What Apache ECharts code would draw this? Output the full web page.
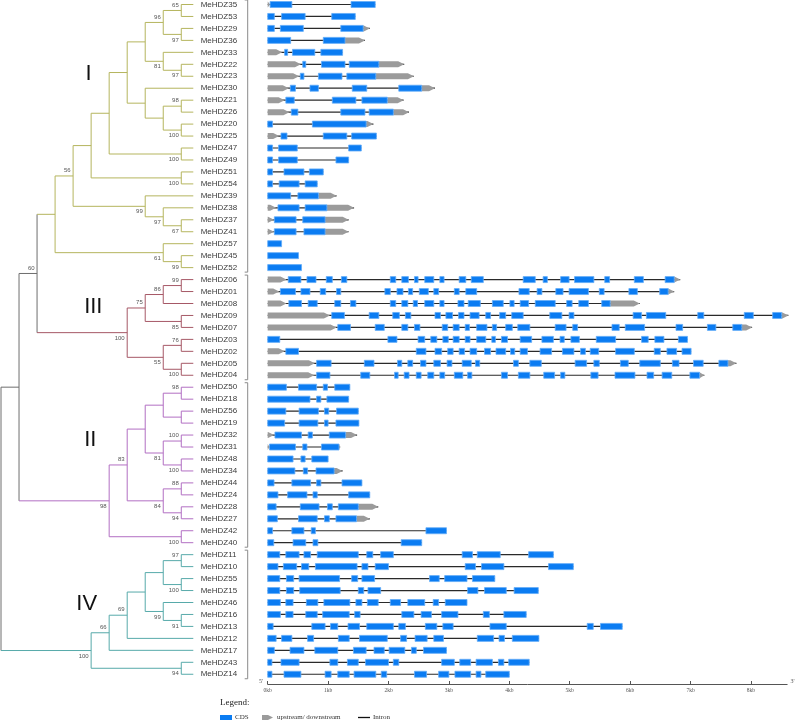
<!DOCTYPE html>
<html><head><meta charset="utf-8">
<script src="https://cdn.jsdelivr.net/npm/echarts@6/dist/echarts.min.js"></script>
<style>html,body{margin:0;padding:0;background:#fff}#c{width:796px;height:722px}</style>
</head><body><div id="c"></div>
<script>
// ---------------- DATA ----------------
const geneOrder = [
 'MeHDZ35','MeHDZ53','MeHDZ29','MeHDZ36','MeHDZ33','MeHDZ22','MeHDZ23','MeHDZ30','MeHDZ21','MeHDZ26',
 'MeHDZ20','MeHDZ25','MeHDZ47','MeHDZ49','MeHDZ51','MeHDZ54','MeHDZ39','MeHDZ38','MeHDZ37','MeHDZ41',
 'MeHDZ57','MeHDZ45','MeHDZ52',
 'MeHDZ06','MeHDZ01','MeHDZ08','MeHDZ09','MeHDZ07','MeHDZ03','MeHDZ02','MeHDZ05','MeHDZ04',
 'MeHDZ50','MeHDZ18','MeHDZ56','MeHDZ19','MeHDZ32','MeHDZ31','MeHDZ48','MeHDZ34','MeHDZ44','MeHDZ24',
 'MeHDZ28','MeHDZ27','MeHDZ42','MeHDZ40',
 'MeHDZ11','MeHDZ10','MeHDZ55','MeHDZ15','MeHDZ46','MeHDZ16','MeHDZ13','MeHDZ12','MeHDZ17','MeHDZ43','MeHDZ14'
];

// Newick topology of each clade with bootstrap values
const cladeNames = ['I', 'III', 'II', 'IV'];
const cladeI = "((((((((MeHDZ35,MeHDZ53)65,(MeHDZ29,MeHDZ36)97)96,(MeHDZ33,(MeHDZ22,MeHDZ23)97)81),(MeHDZ30,((MeHDZ21,MeHDZ26)98,(MeHDZ20,MeHDZ25)100))),(MeHDZ47,MeHDZ49)100),(MeHDZ51,MeHDZ54)100),(MeHDZ39,(MeHDZ38,(MeHDZ37,MeHDZ41)67)97)99)56,(MeHDZ57,(MeHDZ45,MeHDZ52)99)61)";
const cladeIII = "((((MeHDZ06,MeHDZ01)99,MeHDZ08)86,(MeHDZ09,MeHDZ07)85)75,((MeHDZ03,MeHDZ02)76,(MeHDZ05,MeHDZ04)100)55)100";
const cladeII = "(((((MeHDZ50,MeHDZ18)98,(MeHDZ56,MeHDZ19)),((MeHDZ32,MeHDZ31)100,(MeHDZ48,MeHDZ34)100)81),((MeHDZ44,MeHDZ24)88,(MeHDZ28,MeHDZ27)94)84)83,(MeHDZ42,MeHDZ40)100)98";
const cladeIV = "((((((MeHDZ11,MeHDZ10)97,(MeHDZ55,MeHDZ15)100),(MeHDZ46,(MeHDZ16,MeHDZ13)91)99),MeHDZ12)69,MeHDZ17)66,(MeHDZ43,MeHDZ14)94)100";
const backbone = "(((I,III)60,II),IV)";

// Gene structures (kb), flat start/end pairs, aligned with geneOrder
const cdsExons = [
 [0.04,0.40, 1.38,1.78],
 [0,0.11, 0.23,0.62, 1.06,1.45],
 [0,0.11, 0.21,0.59, 1.21,1.58],
 [0,0.38, 0.92,1.28],
 [0.28,0.33, 0.41,0.78, 0.88,1.24],
 [0.58,0.63, 0.89,1.28, 1.35,1.84],
 [0.54,0.60, 0.84,1.23, 1.31,1.79],
 [0.375,0.46, 0.70,0.84, 1.40,1.64, 2.17,2.55],
 [0.30,0.44, 1.07,1.46, 1.56,1.98],
 [0.39,0.50, 1.21,1.61, 1.68,2.08],
 [0,0.08, 0.74,1.63],
 [0.22,0.32, 0.92,1.31, 1.39,1.80],
 [0,0.08, 0.18,0.49, 1.34,1.55],
 [0,0.08, 0.18,0.49, 1.13,1.34],
 [0,0.08, 0.27,0.60, 0.69,0.92],
 [0,0.08, 0.19,0.52, 0.62,0.82],
 [0,0.38, 0.50,0.84],
 [0.17,0.52, 0.62,0.98],
 [0.11,0.47, 0.58,0.95],
 [0.11,0.47, 0.60,0.95],
 [0,0.23],
 [0,0.51],
 [0,0.56],
 [0.34,0.55, 0.65,0.80, 0.97,1.07, 1.22,1.31, 2.03,2.12, 2.22,2.33, 2.43,2.49, 2.60,2.75, 2.85,2.92, 3.17,3.28, 3.37,3.57, 4.23,4.43, 4.56,4.63, 4.85,4.99, 5.08,5.40, 5.58,5.66, 6.07,6.22, 6.58,6.73],
 [0.21,0.46, 0.55,0.70, 0.87,0.96, 1.14,1.21, 1.94,2.03, 2.14,2.24, 2.33,2.40, 2.51,2.66, 2.75,2.83, 3.09,3.17, 3.28,3.46, 4.16,4.33, 4.46,4.54, 4.77,4.89, 4.99,5.31, 5.49,5.57, 5.98,6.12, 6.49,6.63],
 [0.35,0.56, 0.67,0.82, 1.11,1.21, 1.37,1.46, 2.03,2.12, 2.22,2.32, 2.41,2.48, 2.60,2.75, 2.85,2.92, 3.15,3.25, 3.32,3.52, 3.72,3.90, 4.01,4.08, 4.18,4.32, 4.43,4.76, 4.95,5.04, 5.15,5.31, 5.53,5.67],
 [1.06,1.27, 1.68,1.84, 2.07,2.18, 2.28,2.37, 2.77,2.86, 2.95,3.06, 3.16,3.25, 3.35,3.50, 3.61,3.69, 3.84,3.94, 4.04,4.23, 4.67,4.87, 4.99,5.07, 6.05,6.19, 6.27,6.59, 7.12,7.22, 7.89,8.04, 8.36,8.51],
 [1.16,1.37, 1.78,1.93, 2.22,2.32, 2.43,2.52, 2.89,2.98, 3.07,3.17, 3.27,3.34, 3.46,3.63, 3.72,3.79, 3.94,4.05, 4.14,4.34, 4.76,4.94, 5.05,5.13, 5.70,5.82, 5.92,6.24, 6.76,6.87, 7.28,7.42, 7.70,7.85],
 [0,0.20, 1.99,2.14, 2.49,2.60, 2.70,2.80, 2.90,2.99, 3.07,3.17, 3.27,3.35, 3.46,3.61, 3.71,3.77, 3.87,3.97, 4.18,4.37, 4.54,4.73, 4.84,4.91, 5.02,5.16, 5.44,5.76, 6.19,6.30, 6.41,6.56, 6.80,6.95],
 [0.30,0.51, 2.46,2.62, 2.77,2.88, 2.98,3.07, 3.17,3.26, 3.35,3.46, 3.59,3.69, 3.78,3.94, 4.02,4.09, 4.18,4.30, 4.51,4.70, 4.88,5.07, 5.18,5.26, 5.34,5.48, 5.76,6.07, 6.40,6.50, 6.61,6.77, 6.86,7.01],
 [0.81,1.05, 1.60,1.76, 2.15,2.22, 2.32,2.40, 2.53,2.62, 2.75,2.86, 2.97,3.05, 3.22,3.37, 3.44,3.51, 4.07,4.15, 4.34,4.53, 5.09,5.28, 5.40,5.49, 5.84,5.97, 6.16,6.50, 6.70,6.81, 7.05,7.21, 7.47,7.62],
 [0.81,1.03, 1.54,1.69, 2.10,2.16, 2.26,2.34, 2.46,2.54, 2.65,2.75, 2.85,2.93, 3.09,3.23, 3.31,3.38, 3.87,3.97, 4.15,4.34, 4.57,4.75, 4.85,4.92, 5.35,5.47, 5.75,6.08, 6.28,6.39, 6.53,6.69, 6.99,7.15],
 [0,0.31, 0.51,0.81, 0.92,0.99, 1.11,1.36],
 [0,0.70, 0.81,0.88, 0.98,1.34],
 [0,0.30, 0.52,0.84, 0.94,1.01, 1.14,1.50],
 [0,0.28, 0.52,0.83, 0.94,1.00, 1.13,1.51],
 [0.12,0.56, 0.67,0.74, 1.02,1.29],
 [0.03,0.46, 0.58,0.65, 0.89,1.18],
 [0,0.42, 0.55,0.62, 0.73,1.00],
 [0,0.45, 0.59,0.66, 0.80,1.10],
 [0,0.105, 0.40,0.71, 0.81,0.88, 1.23,1.56],
 [0,0.17, 0.33,0.65, 0.75,0.82, 1.34,1.69],
 [0,0.14, 0.54,0.85, 0.99,1.07, 1.17,1.50],
 [0,0.16, 0.51,0.82, 0.94,1.02, 1.13,1.47],
 [0,0.08, 0.40,0.60, 0.72,0.79, 2.62,2.96],
 [0,0.10, 0.42,0.63, 0.75,0.83, 2.21,2.55],
 [0,0.20, 0.30,0.52, 0.60,0.71, 0.82,1.50, 1.64,1.74, 1.87,2.08, 3.22,3.39, 3.47,3.85, 4.32,4.73],
 [0,0.17, 0.26,0.48, 0.56,0.68, 0.79,1.48, 1.56,1.66, 1.78,2.00, 3.27,3.44, 3.54,3.91, 4.65,5.06],
 [0,0.20, 0.31,0.43, 0.52,1.19, 1.39,1.49, 1.56,1.77, 2.68,2.84, 2.93,3.30, 3.39,3.76],
 [0,0.20, 0.31,0.43, 0.53,1.20, 1.50,1.59, 1.66,1.87, 3.31,3.48, 3.59,3.95, 4.08,4.48],
 [0,0.21, 0.30,0.42, 0.64,0.83, 0.93,1.36, 1.46,1.56, 1.65,1.83, 2.03,2.20, 2.32,2.60, 2.74,2.83, 2.94,3.30],
 [0,0.21, 0.30,0.42, 0.63,0.82, 0.91,1.35, 1.44,1.53, 2.22,2.42, 2.54,2.71, 2.88,3.15, 3.57,3.67, 3.91,4.28],
 [0,0.09, 0.73,0.95, 1.04,1.16, 1.33,1.52, 1.64,2.08, 2.17,2.28, 2.61,2.80, 2.90,3.07, 3.68,3.95, 5.29,5.39, 5.51,5.87],
 [0,0.14, 0.23,0.40, 0.66,0.76, 1.17,1.35, 1.52,1.98, 2.20,2.30, 2.44,2.64, 2.75,2.91, 3.47,3.74, 3.83,3.92, 4.05,4.49],
 [0,0.11, 0.37,0.60, 0.78,1.16, 1.42,1.63, 1.76,1.93, 2.01,2.27, 2.38,2.46, 2.58,2.96],
 [0,0.07, 0.22,0.52, 1.03,1.16, 1.32,1.50, 1.62,2.00, 2.08,2.17, 2.88,3.09, 3.18,3.36, 3.45,3.72, 3.82,3.91, 3.99,4.33],
 [0,0.07, 0.27,0.55, 0.95,1.05, 1.16,1.35, 1.43,1.79, 1.88,1.97, 2.43,2.63, 2.83,3.00, 3.10,3.36, 3.45,3.53, 3.61,4.00]
];
const utrRegions = [
 [0,0.04], [], [1.58,1.69], [1.28,1.61], [0,0.24], [0,0.55, 1.84,2.26], [0,0.52, 1.79,2.42],
 [0,0.35, 2.55,2.77], [0,0.28, 1.98,2.25], [0,0.36, 2.08,2.34], [1.63,1.75], [0,0.19],
 [], [], [], [], [0.84,1.14], [0,0.14, 0.98,1.43], [0,0.105, 0.95,1.34], [0,0.105, 0.95,1.34],
 [], [], [],
 [0,0.31, 6.73,6.83], [0,0.19, 6.63,6.73], [0,0.31, 5.67,6.16], [0,1.03, 8.51,8.62], [0,1.14, 7.85,8.02],
 [], [0,0.28], [0,0.78, 7.62,7.76], [0,0.77, 7.15,7.23],
 [], [], [], [], [0,0.105, 1.29,1.48], [0,0.03, 1.18,1.20], [], [1.10,1.24], [], [],
 [1.50,1.83], [1.47,1.69], [], [],
 [], [], [], [], [], [], [], [], [], [], []
];
const kbTicks = [0,1,2,3,4,5,6,7,8];
const axisMaxKb = 8.6;

// ---------------- STYLE / LAYOUT ----------------
const cladeColors = ['#b5b55e', '#a65866', '#b26fc3', '#57aaaa'];
const backboneColor = '#6e6e6e';
const rowPitch = 11.96, firstRowY = 4.5, axisY = 684;
const yMin = -firstRowY / rowPitch, yMax = yMin + axisY / rowPitch;
const exonHalf = 3;

// ---------------- TREE ----------------
function parse(s) {
  let i = 0;
  function node() {
    const n = { children: [] };
    if (s[i] === '(') {
      i++;
      n.children.push(node());
      while (s[i] === ',') { i++; n.children.push(node()); }
      i++;
    }
    let lab = '';
    while (i < s.length && !',()'.includes(s[i])) lab += s[i++];
    if (n.children.length) n.support = lab ? lab : null; else n.name = lab;
    return n;
  }
  return node();
}
const cladeTrees = [cladeI, cladeIII, cladeII, cladeIV].map(parse);
function mark(n, k) { n.clade = k; n.children.forEach(c => mark(c, k)); }
cladeTrees.forEach((t, k) => mark(t, k));
function graft(n) {
  if (!n.children.length) { const k = cladeNames.indexOf(n.name); return cladeTrees[k]; }
  n.children = n.children.map(graft); n.clade = -1; return n;
}
const root = graft(parse(backbone));
function layout(n) {
  if (!n.children.length) { n.row = geneOrder.indexOf(n.name); n.h = 0; return; }
  n.children.forEach(layout);
  n.h = 1 + Math.max(...n.children.map(c => c.h));
  n.row = (n.children[0].row + n.children[n.children.length - 1].row) / 2;
}
layout(root);
const colorOf = n => n.clade >= 0 ? cladeColors[n.clade] : backboneColor;
const segs = [], boots = [], leaves = [];
function collect(n) {
  if (!n.children.length) { leaves.push(n); return; }
  const f = n.children[0], l = n.children[n.children.length - 1];
  segs.push({ x1: n.h, y1: f.row, x2: n.h, y2: l.row, color: colorOf(n), leaf: false });
  n.children.forEach((c, ci) => {
    segs.push({ x1: n.h, y1: c.row, x2: c.h, y2: c.row, color: colorOf(c), leaf: !c.children.length });
    if (c.support != null) boots.push({ h: c.h, row: c.row, text: c.support, up: ci === 0 });
    collect(c);
  });
}
collect(root);
// clade row ranges for brackets
const cladeRanges = cladeTrees.map(t => {
  const rows = []; (function w(n){ if(!n.children.length) rows.push(n.row); else n.children.forEach(w); })(t);
  return [Math.min(...rows), Math.max(...rows)];
});

function pairs(a) { const r = []; for (let i = 0; i < a.length; i += 2) r.push([a[i], a[i + 1]]); return r; }

const chart = echarts.init(document.getElementById('c'));
const serif = '"Liberation Serif","Times New Roman",serif';
const sans = '"Liberation Sans",Arial,sans-serif';

chart.setOption({
  animation: false,
  backgroundColor: '#fff',
  grid: [
    { left: 1, top: 0, width: 198.3, height: axisY },
    { left: 267.7, top: 0, width: 60.4 * axisMaxKb, height: axisY }
  ],
  xAxis: [
    { gridIndex: 0, type: 'value', min: 0, max: 11, inverse: true, show: false },
    { gridIndex: 1, type: 'value', min: 0, max: axisMaxKb, position: 'bottom',
      axisLine: { onZero: false, lineStyle: { color: '#555', width: 1 } },
      axisTick: { inside: true, length: 3, customValues: kbTicks, lineStyle: { color: '#555' } },
      axisLabel: { customValues: kbTicks, formatter: v => v + 'kb', fontSize: 5.5, fontFamily: serif, color: '#555', margin: 4 },
      splitLine: { show: false } }
  ],
  yAxis: [
    { gridIndex: 0, type: 'value', min: yMin, max: yMax, inverse: true, show: false },
    { gridIndex: 1, type: 'value', min: yMin, max: yMax, inverse: true, show: false }
  ],
  series: [
    { type: 'custom', xAxisIndex: 0, yAxisIndex: 0, clip: false, silent: true,
      data: segs.map(s => [s.x1, s.y1, s.x2, s.y2]),
      encode: { x: [0, 2], y: [1, 3] },
      renderItem(params, api) {
        const s = segs[params.dataIndex];
        const p1 = api.coord([s.x1, s.y1]), p2 = api.coord([s.x2, s.y2]);
        const x2 = s.leaf ? p2[0] - 6 : p2[0];
        return { type: 'line', shape: { x1: p1[0], y1: p1[1], x2: x2, y2: p2[1] }, style: { stroke: s.color, lineWidth: 1 } };
      } },
    { type: 'custom', xAxisIndex: 0, yAxisIndex: 0, clip: false, silent: true,
      data: boots.map(b => [b.h, b.row]),
      encode: { x: 0, y: 1 },
      renderItem(params, api) {
        const b = boots[params.dataIndex];
        const p = api.coord([b.h, b.row]);
        return { type: 'text', x: p[0] - 2.5, y: p[1] + (b.up ? -5.5 : 5.5),
          style: { text: b.text, fill: '#555', font: '6px ' + sans, align: 'right', verticalAlign: 'middle' } };
      } },
    { type: 'custom', xAxisIndex: 0, yAxisIndex: 0, clip: false, silent: true,
      data: leaves.map(l => [0, l.row]),
      encode: { x: 0, y: 1 },
      renderItem(params, api) {
        const l = leaves[params.dataIndex];
        const p = api.coord([0, l.row]);
        return { type: 'text', x: p[0] + 1.4, y: p[1],
          style: { text: l.name, fill: '#3a3a3a', font: '8px ' + sans, align: 'left', verticalAlign: 'middle' } };
      } },
    { type: 'custom', xAxisIndex: 1, yAxisIndex: 1, clip: false, silent: true,
      data: cladeRanges.map(r => [0, r[0], r[1]]),
      encode: { x: 0, y: [1, 2] },
      renderItem(params, api) {
        const r = cladeRanges[params.dataIndex];
        const a = api.coord([0, r[0]]), b = api.coord([0, r[1]]);
        const x = a[0] - 20, y1 = a[1] - 4.5, y2 = b[1] + 4.5;
        return { type: 'polyline', shape: { points: [[x - 3, y1], [x, y1], [x, y2], [x - 3, y2]] },
          style: { stroke: '#8a8a8a', lineWidth: 1, fill: null } };
      } },
    { type: 'custom', xAxisIndex: 1, yAxisIndex: 1, clip: false, silent: true,
      data: geneOrder.map((g, i) => [0, i]),
      encode: { x: 0, y: 1 },
      renderItem(params, api) {
        const i = params.dataIndex;
        const cds = pairs(cdsExons[i]), utr = pairs(utrRegions[i]);
        const all = cds.concat(utr);
        const s = Math.min(...all.map(p => p[0])), e = Math.max(...all.map(p => p[1]));
        const y = api.coord([0, i])[1];
        const X = kb => api.coord([kb, i])[0];
        const ch = [];
        if (all.length > 1) ch.push({ type: 'line', shape: { x1: X(s), y1: y, x2: X(e), y2: y }, style: { stroke: '#2a2a2a', lineWidth: 1.2 } });
        utr.forEach(([a, b]) => {
          const x1 = X(a), x2 = X(b), t = Math.min(6, x2 - x1);
          ch.push({ type: 'polygon', shape: { points: [[x1, y - exonHalf], [x2 - t, y - exonHalf], [x2, y], [x2 - t, y + exonHalf], [x1, y + exonHalf]] },
            style: { fill: '#9b9b9b' } });
        });
        cds.forEach(([a, b]) => ch.push({ type: 'rect', shape: { x: X(a), y: y - exonHalf, width: X(b) - X(a), height: 2 * exonHalf },
          style: { fill: '#0b7cf2', stroke: '#63acf8', lineWidth: 0.8 } }));
        return { type: 'group', children: ch };
      } }
  ],
  graphic: [
    { type: 'text', x: 88.5, y: 73.5, style: { text: cladeNames[0], font: '22px ' + sans, fill: '#111', align: 'center', verticalAlign: 'middle' } },
    { type: 'text', x: 93.3, y: 307, style: { text: cladeNames[1], font: '22px ' + sans, fill: '#111', align: 'center', verticalAlign: 'middle' } },
    { type: 'text', x: 90.3, y: 439.7, style: { text: cladeNames[2], font: '22px ' + sans, fill: '#111', align: 'center', verticalAlign: 'middle' } },
    { type: 'text', x: 86.7, y: 603.5, style: { text: cladeNames[3], font: '22px ' + sans, fill: '#111', align: 'center', verticalAlign: 'middle' } },
    { type: 'text', x: 261, y: 681.5, style: { text: "5'", font: '6px ' + serif, fill: '#555', align: 'center', verticalAlign: 'middle' } },
    { type: 'text', x: 792.5, y: 681.5, style: { text: "3'", font: '6px ' + serif, fill: '#555', align: 'center', verticalAlign: 'middle' } },
    { type: 'text', x: 220, y: 703, style: { text: 'Legend:', font: '9px ' + serif, fill: '#222', verticalAlign: 'middle' } },
    { type: 'rect', shape: { x: 220, y: 715, width: 12, height: 5 }, style: { fill: '#0b7cf2' } },
    { type: 'text', x: 235, y: 717.5, style: { text: 'CDS', font: '7px ' + serif, fill: '#333', verticalAlign: 'middle' } },
    { type: 'polygon', shape: { points: [[262, 715], [268, 715], [273, 717.5], [268, 720], [262, 720]] }, style: { fill: '#9b9b9b' } },
    { type: 'text', x: 277, y: 717.5, style: { text: 'upstream/ downstream', font: '7px ' + serif, fill: '#333', verticalAlign: 'middle' } },
    { type: 'line', shape: { x1: 358, y1: 717.5, x2: 370, y2: 717.5 }, style: { stroke: '#111', lineWidth: 1.3 } },
    { type: 'text', x: 373, y: 717.5, style: { text: 'Intron', font: '7px ' + serif, fill: '#333', verticalAlign: 'middle' } }
  ]
});
</script></body></html>
